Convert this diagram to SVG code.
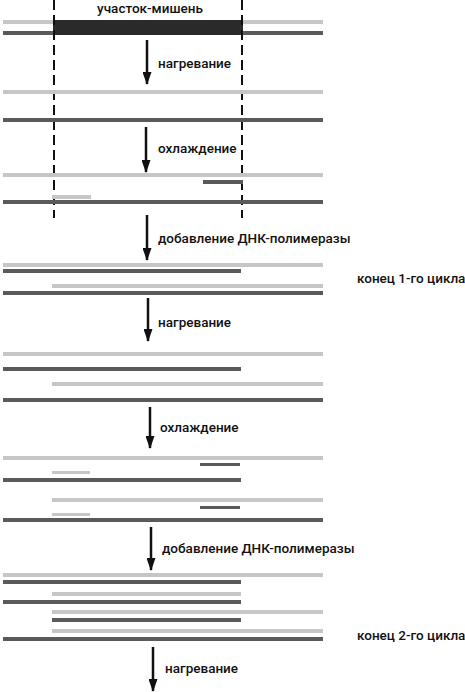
<svg xmlns="http://www.w3.org/2000/svg" width="465" height="692" viewBox="0 0 465 692">
<defs>
<style>
.l{fill:#c6c6c6}
.d{fill:#5a5a5a}
.t{font-family:Roboto,"Liberation Sans",sans-serif;font-size:13.5px;font-weight:500;fill:#111}
.a{stroke:#111;stroke-width:2.5;fill:none}
.dash{stroke:#111;stroke-width:2;stroke-dasharray:10 5}
</style>
<marker id="ah" markerWidth="13" markerHeight="9" refX="12" refY="4.5" orient="auto" markerUnits="userSpaceOnUse" viewBox="0 0 13 9"><path d="M0,0 L13,4.5 L0,9 Z" fill="#111"/></marker>
</defs>
<rect width="465" height="692" fill="#fff"/>
<g id="target">
<rect class="l" x="3" y="20" width="320" height="4"/>
<rect class="d" x="3" y="31" width="320" height="4"/>
<rect x="53" y="20" width="190" height="15" fill="#2a2a2a"/>
<text class="t" x="150" y="13" text-anchor="middle">участок-мишень</text>
</g>
<g id="dashes">
<line class="dash" x1="54" y1="0" x2="54" y2="218"/>
<line class="dash" x1="242" y1="0" x2="242" y2="218"/>
</g>
<g id="step1">
<rect class="l" x="3" y="90" width="320" height="4"/>
<rect class="d" x="3" y="118" width="320" height="4"/>
</g>
<g id="step2">
<rect class="l" x="3" y="173" width="320" height="4"/>
<rect class="d" x="203" y="180" width="40" height="4"/>
<rect class="l" x="52" y="195" width="39" height="4"/>
<rect class="d" x="3" y="200" width="320" height="4"/>
</g>
<g id="cycle1">
<rect class="l" x="3" y="263" width="320" height="4"/>
<rect class="d" x="3" y="269" width="238" height="4"/>
<rect class="l" x="52" y="284" width="271" height="4"/>
<rect class="d" x="3" y="291" width="320" height="4"/>
<text class="t" x="357" y="283">конец 1-го цикла</text>
</g>
<g id="step4">
<rect class="l" x="3" y="352" width="320" height="4"/>
<rect class="d" x="3" y="367" width="238" height="4"/>
<rect class="l" x="52" y="382" width="271" height="4"/>
<rect class="d" x="3" y="398" width="320" height="4"/>
</g>
<g id="step5">
<rect class="l" x="3" y="456" width="320" height="4"/>
<rect class="d" x="200" y="463" width="40" height="3"/>
<rect class="l" x="52" y="471" width="38" height="3"/>
<rect class="d" x="3" y="478" width="238" height="4"/>
<rect class="l" x="52" y="498" width="271" height="4"/>
<rect class="d" x="200" y="506" width="40" height="3"/>
<rect class="l" x="52" y="513" width="38" height="3"/>
<rect class="d" x="3" y="518" width="320" height="4"/>
</g>
<g id="cycle2">
<rect class="l" x="3" y="573" width="320" height="4"/>
<rect class="d" x="3" y="580" width="238" height="4"/>
<rect class="l" x="52" y="592" width="189" height="4"/>
<rect class="d" x="3" y="600" width="238" height="4"/>
<rect class="l" x="52" y="610" width="271" height="4"/>
<rect class="d" x="52" y="618" width="189" height="4"/>
<rect class="l" x="52" y="629" width="271" height="4"/>
<rect class="d" x="3" y="637" width="320" height="4"/>
<text class="t" x="357" y="640">конец 2-го цикла</text>
</g>
<g id="connectors">
<line class="a" x1="147" y1="40" x2="147" y2="84" marker-end="url(#ah)"/>
<line class="a" x1="146" y1="127" x2="146" y2="172" marker-end="url(#ah)"/>
<line class="a" x1="147" y1="215" x2="147" y2="260" marker-end="url(#ah)"/>
<line class="a" x1="148" y1="298" x2="148" y2="341" marker-end="url(#ah)"/>
<line class="a" x1="150" y1="407" x2="150" y2="448" marker-end="url(#ah)"/>
<line class="a" x1="151" y1="527" x2="151" y2="570" marker-end="url(#ah)"/>
<line class="a" x1="153" y1="647" x2="153" y2="691" marker-end="url(#ah)"/>
</g>
<g id="labels">
<text class="t" x="158" y="68">нагревание</text>
<text class="t" x="158" y="153">охлаждение</text>
<text class="t" x="158" y="243">добавление ДНК-полимеразы</text>
<text class="t" x="158" y="327">нагревание</text>
<text class="t" x="160" y="432">охлаждение</text>
<text class="t" x="162" y="553">добавление ДНК-полимеразы</text>
<text class="t" x="165" y="673">нагревание</text>
</g>
</svg>
